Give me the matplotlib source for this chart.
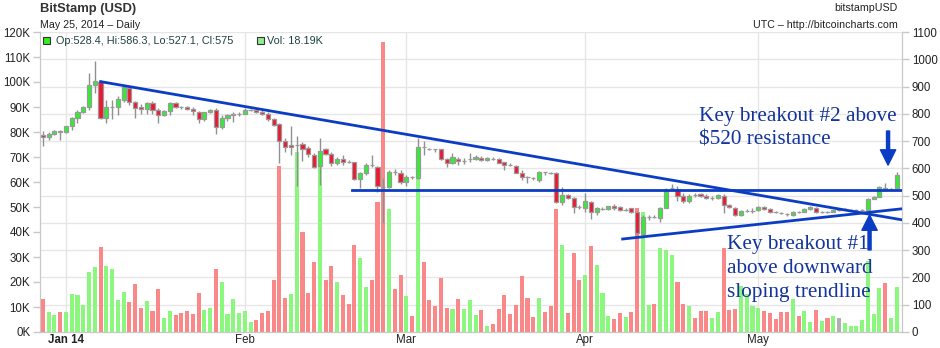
import numpy as np
import pandas as pd
import matplotlib
matplotlib.use('Agg')
import matplotlib.pyplot as plt
import matplotlib.dates as mdates
from matplotlib.patches import Rectangle
from matplotlib.transforms import blended_transform_factory

plt.rcParams['font.family'] = ['Liberation Sans', 'DejaVu Sans']

# daily candles, Bitstamp BTC/USD, from 2013-12-28 to 2014-05-25
start_date = '2013-12-28'

opens = [722, 715, 727, 736, 735, 754, 783, 807, 826, 904, 918, 783, 824, 824, 851, 893,
         843, 826, 816, 838, 813, 794, 809, 838, 824, 824, 816, 808, 781, 805, 813, 752,
         786, 796, 800, 800, 814, 813, 805, 800, 780, 761, 701, 685, 687, 688, 676, 649,
         609, 670, 654, 618, 633, 625, 622, 560, 582, 611, 606, 533, 533, 585, 582, 549,
         567, 563, 677, 672, 670, 670, 633, 618, 634, 628, 633, 633, 639, 631, 635, 633,
         622, 612, 609, 584, 567, 563, 557, 585, 584, 582, 478, 501, 490, 457, 453, 478,
         441, 451, 451, 462, 457, 449, 453, 441, 359, 420, 420, 417, 456, 527, 524, 499,
         482, 502, 505, 500, 493, 490, 500, 466, 456, 429, 445, 445, 447, 460, 451, 439,
         435, 431, 429, 441, 441, 451, 456, 441, 441, 441, 447, 450, 449, 448, 447, 447,
         488, 496, 527, 523, 528.4]
highs = [737, 734, 739, 740, 757, 790, 814, 829, 948, 994, 925, 849, 849, 866, 906, 903,
         847, 836, 844, 847, 820, 814, 845, 845, 830, 827, 824, 812, 808, 818, 820, 796,
         799, 805, 805, 820, 819, 820, 813, 808, 783, 765, 710, 755, 720, 695, 683, 655,
         710, 673, 661, 640, 649, 631, 625, 588, 618, 649, 609, 563, 594, 596, 594, 575,
         572, 710, 701, 675, 672, 672, 637, 655, 643, 637, 655, 649, 645, 640, 640, 637,
         625, 618, 612, 594, 572, 567, 591, 588, 588, 588, 533, 506, 494, 466, 511, 482,
         459, 457, 462, 468, 461, 453, 456, 443, 430, 428, 428, 460, 527, 541, 535, 508,
         506, 511, 508, 506, 499, 505, 505, 468, 460, 447, 450, 453, 463, 463, 456, 443,
         439, 435, 443, 445, 453, 462, 460, 445, 445, 449, 451, 453, 451, 451, 451, 492,
         499, 536, 545, 527, 586.3]
lows = [683, 703, 724, 705, 730, 741, 765, 803, 814, 875, 780, 765, 781, 796, 845, 832,
        783, 798, 799, 800, 765, 792, 794, 820, 818, 813, 796, 765, 774, 802, 725, 744,
        774, 771, 793, 798, 810, 802, 796, 775, 755, 618, 661, 649, 535, 627, 643, 600,
        539, 650, 610, 612, 612, 618, 557, 527, 576, 606, 515, 398, 527, 576, 543, 535,
        560, 560, 649, 667, 661, 631, 604, 616, 612, 616, 624, 631, 628, 628, 631, 618,
        594, 609, 582, 557, 545, 557, 551, 576, 579, 472, 466, 486, 435, 450, 441, 413,
        429, 447, 447, 449, 443, 444, 436, 355, 343, 411, 417, 405, 453, 521, 482, 474,
        474, 496, 494, 486, 484, 486, 435, 453, 425, 425, 439, 435, 444, 449, 435, 435,
        431, 427, 427, 437, 439, 449, 435, 437, 437, 439, 444, 446, 446, 445, 444, 445,
        486, 494, 518, 520, 527.1]
closes = [715, 727, 737, 735, 754, 783, 808, 826, 904, 919, 783, 824, 824, 854, 897, 842,
          820, 816, 838, 813, 794, 809, 841, 826, 824, 816, 809, 781, 805, 814, 752, 786,
          796, 801, 800, 813, 814, 805, 800, 780, 760, 701, 680, 680, 687, 671, 651, 604,
          665, 654, 618, 633, 625, 625, 560, 582, 611, 611, 535, 533, 585, 585, 551, 567,
          567, 677, 677, 672, 670, 634, 618, 640, 628, 628, 633, 640, 631, 637, 635, 618,
          612, 612, 584, 567, 567, 563, 588, 585, 584, 478, 502, 490, 457, 457, 480, 441,
          453, 451, 462, 455, 447, 447, 439, 362, 420, 420, 420, 456, 517, 527, 499, 482,
          500, 502, 499, 493, 493, 502, 466, 460, 429, 444, 445, 445, 460, 451, 439, 439,
          435, 431, 441, 441, 451, 460, 439, 441, 441, 447, 451, 450, 449, 448, 447, 488,
          496, 533, 523, 523, 575]
# volume in thousands of BTC, and bar colour: u = up, d = down, n = flat
volumes = [13.2, 8.0, 6.8, 8.0, 8.0, 15.2, 14.8, 10.8, 24.1, 26.0, 34.0, 26.4, 25.2, 12.8, 16.0, 12.0,
           19.2, 9.6, 12.4, 8.4, 17.2, 5.6, 8.4, 6.8, 7.6, 8.4, 7.2, 15.6, 8.8, 9.6, 25.2, 20.0,
           7.2, 13.2, 7.6, 8.4, 4.0, 4.8, 7.6, 8.4, 20.8, 66.4, 13.6, 15.2, 72.1, 40.0, 15.6, 28.0,
           72.5, 20.8, 26.4, 20.0, 14.8, 11.2, 34.8, 29.6, 18.0, 20.8, 52.0, 116.0, 49.2, 17.2, 22.8, 14.4,
           6.4, 62.0, 28.0, 12.8, 10.4, 21.6, 9.6, 9.2, 13.2, 9.2, 12.8, 6.8, 8.8, 2.4, 3.2, 9.2,
           14.8, 7.2, 10.8, 22.4, 13.6, 6.0, 13.6, 8.0, 10.4, 49.2, 34.8, 7.6, 31.6, 20.8, 22.8, 34.4,
           26.8, 15.6, 6.4, 5.2, 7.6, 6.0, 8.0, 49.6, 48.0, 10.8, 11.2, 33.6, 32.8, 30.8, 20.0, 11.2,
           10.4, 5.6, 8.4, 8.4, 5.6, 8.0, 33.6, 8.8, 9.2, 18.4, 15.2, 10.4, 9.6, 8.4, 7.6, 5.2,
           8.0, 8.0, 13.2, 6.4, 8.4, 4.0, 8.8, 4.4, 5.6, 6.4, 5.6, 3.6, 2.4, 2.4, 4.8, 28.4,
           7.2, 17.6, 19.6, 5.6, 18.19]
vol_dir = ('duuduuuuuu' 'duuuudddud' 'duuddddduu' 'duuuuuuddd' 'ddduudddud'
           'duddduuddd' 'uddududddd' 'duduuududd' 'dddddduddd' 'uddduduuud'
           'dudduuduuu' 'dduddduudd' 'duuuuddddd' 'uduududunu' 'uuuuuuduu')

# hand-drawn annotations (dates, prices)
down_trend_dates = ['2014-01-07 00:00', '2014-05-26 00:00']
down_trend_prices = [918, 411]
resist_dates = ['2014-02-19 14:00', '2014-05-26 00:00']
resist_prices = [520, 520]
up_trend_dates = ['2014-04-07 12:00', '2014-05-26 00:00']
up_trend_prices = [341, 452]

month_ticks = ['2014-01-01', '2014-02-01', '2014-03-01', '2014-04-01', '2014-05-01']
month_labels = ['Jan 14', 'Feb', 'Mar', 'Apr', 'May']

dates = pd.date_range(start_date, periods=len(opens), freq='D')
x = mdates.date2num(dates)
o = np.array(opens, float)
h = np.array(highs, float)
l = np.array(lows, float)
c = np.array(closes, float)
v = np.array(volumes) * 1000


def dnum(s):
    return mdates.date2num(pd.Timestamp(s))


fig = plt.figure(figsize=(9.4, 3.48), dpi=100)
ax_vol = fig.add_axes([40 / 940, 16 / 348, 862 / 940, 300 / 348])
ax = ax_vol.twinx()

ax_vol.set_ylim(0, 120000)
ax.set_ylim(0, 1100)
ax_vol.set_xlim(dnum('2013-12-27 12:00'), dnum('2014-05-25 22:00'))

# grid (drawn on the volume axes so it stays behind the bars)
grid_tr = blended_transform_factory(ax_vol.transAxes, ax.transData)
for p in range(0, 1200, 100):
    ax_vol.plot([0, 1], [p, p], transform=grid_tr, color='#e6e6e6', lw=1, zorder=0)
ax_vol.set_xticks([dnum(m) for m in month_ticks])
ax_vol.set_xticklabels(month_labels)
ax_vol.get_xticklabels()[0].set_fontweight('bold')
ax_vol.grid(axis='x', color='#e6e6e6', lw=1)
ax_vol.set_axisbelow(True)

# volume
vcol = {'u': '#8cf77f', 'd': '#fa8888', 'n': '#b0b0b0'}
ax_vol.bar(x, v, width=0.7, color=[vcol[k] for k in vol_dir], zorder=2)

# candles
body_col = np.where(c > o, '#2ef02e', np.where(c < o, '#ee1730', '#999999'))
ax.vlines(x, l, h, color='#909090', lw=1, zorder=3)
ax.bar(x, np.abs(c - o), bottom=np.minimum(o, c), width=0.72, color=body_col,
       edgecolor='#9a9a9a', linewidth=0.9, zorder=4)

# trend lines
blue = '#0b3cc4'
for ds, ps in [(down_trend_dates, down_trend_prices), (resist_dates, resist_prices),
               (up_trend_dates, up_trend_prices)]:
    ax.plot([dnum(d) for d in ds], ps, color=blue, lw=2, zorder=5)

# arrows
ax.annotate('', xy=(dnum('2014-05-23 12:00'), 612), xytext=(dnum('2014-05-23 12:00'), 737),
            arrowprops=dict(width=2.2, headwidth=11, headlength=11, color=blue, shrink=0))
ax.annotate('', xy=(dnum('2014-05-20 07:00'), 429), xytext=(dnum('2014-05-20 07:00'), 301),
            arrowprops=dict(width=2.2, headwidth=11, headlength=11, color=blue, shrink=0))

txt_col = '#13349c'
ax.text(0.7645, 0.75, 'Key breakout #2 above\n$520 resistance', transform=ax.transAxes,
        family='Liberation Serif', fontsize=15.3, color=txt_col, ha='left', va='top',
        linespacing=1.35, zorder=6)
ax.text(0.797, 0.322, 'Key breakout #1\nabove downward\nsloping trendline', transform=ax.transAxes,
        family='Liberation Serif', fontsize=15.3, color=txt_col, ha='left', va='top',
        linespacing=1.35, zorder=6)

# axes styling
ax_vol.yaxis.set_major_locator(matplotlib.ticker.MultipleLocator(10000))
ax_vol.yaxis.set_major_formatter(matplotlib.ticker.FuncFormatter(lambda val, pos: f'{int(val / 1000)}K'))
ax.yaxis.set_major_locator(matplotlib.ticker.MultipleLocator(100))
for a in (ax_vol, ax):
    for s in a.spines.values():
        s.set_color('#c8c8c8')
    a.spines['top'].set_visible(False)
    a.tick_params(labelsize=8.3, colors='#222222', length=5, width=1, pad=2)
    a.tick_params(axis='y', color='#c8c8c8')
ax_vol.tick_params(axis='x', length=0, pad=1.5)

# header texts
fig.text(40 / 940, 1 - 9 / 348, 'BitStamp (USD)', fontsize=9.4, fontweight='bold', color='#333333', va='center')
fig.text(40 / 940, 1 - 25 / 348, 'May 25, 2014 \u2013 Daily', fontsize=7.7, color='#222222', va='center')
fig.text(898 / 940, 1 - 8 / 348, 'bitstampUSD', fontsize=7.7, color='#222222', ha='right', va='center')
fig.text(898 / 940, 1 - 24.5 / 348, 'UTC \u2013 http://bitcoincharts.com', fontsize=7.7, color='#222222',
         ha='right', va='center')

# info line inside the plot
fig.add_artist(Rectangle((43 / 940, 1 - 44 / 348), 7 / 940, 7 / 348, transform=fig.transFigure,
                         facecolor='#33ee22', edgecolor='#333333', lw=0.8))
fig.text(56 / 940, 1 - 40.5 / 348, 'Op:528.4, Hi:586.3, Lo:527.1, Cl:575', fontsize=7.8, color='#1d4040',
         va='center')
fig.add_artist(Rectangle((257 / 940, 1 - 44 / 348), 7 / 940, 7 / 348, transform=fig.transFigure,
                         facecolor='#90ee90', edgecolor='#333333', lw=0.8))
fig.text(267 / 940, 1 - 40.5 / 348, 'Vol: 18.19K', fontsize=7.8, color='#1d4040', va='center')

fig.savefig('out.png', dpi=100)
